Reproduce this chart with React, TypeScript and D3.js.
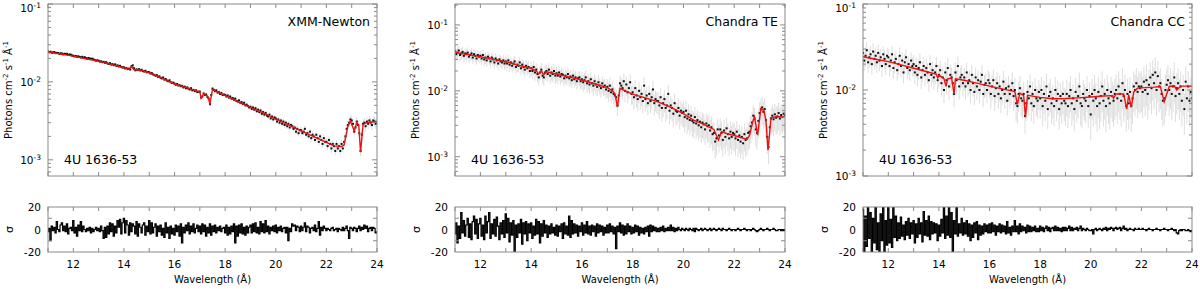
import * as d3 from 'd3'

// spectra are binned on a common wavelength grid (Å)
const gridStart = 11
const gridStep = 0.05
const wavelengthTicks = [12, 14, 16, 18, 20, 22, 24]
const fluxDecades = [-3, -2, -1]
const sigmaTicks = [-20, 0, 20]

// ---- XMM-Newton ----
// observed flux, 1e-3 photons cm^-2 s^-1 Å^-1, one value per 0.05 Å from 11 Å
const xmmFlux = [
  24.6, 24.0, 24.4, 23.7, 23.9, 24.2, 23.4, 23.6, 23.5, 22.9, 23.3, 23.1, 22.6, 23.0, 22.8, 22.9, 22.2, 22.5, 22.3, 21.8,
  21.7, 21.2, 21.5, 21.0, 21.3, 20.9, 20.6, 21.0, 20.4, 20.8, 20.2, 19.9, 20.3, 20.0, 19.6, 19.9, 19.4, 19.0, 18.8, 18.9,
  18.7, 18.2, 18.4, 17.9, 18.1, 17.6, 17.9, 17.3, 17.0, 17.4, 16.7, 16.9, 16.4, 16.8, 16.1, 16.3, 15.8, 16.1, 15.5, 15.3,
  15.4, 14.9, 15.1, 14.6, 14.8, 14.4, 15.9, 16.3, 15.0, 14.1, 14.5, 14.2, 14.6, 14.0, 14.3, 13.8, 13.6, 13.9, 13.3, 13.4,
  13.3, 12.8, 13.0, 12.5, 12.3, 12.0, 12.2, 11.6, 11.8, 11.3, 11.1, 11.4, 10.7, 10.9, 10.4, 10.2, 10.5, 9.9, 9.7, 9.8,
  9.5, 9.2, 9.4, 9.0, 9.1, 8.8, 8.9, 8.5, 8.7, 8.3, 8.5, 8.2, 8.0, 8.3, 7.8, 7.9, 7.6, 7.8, 7.4, 7.5,
  7.5, 6.3, 6.5, 7.1, 6.8, 6.9, 6.4, 6.1, 5.2, 6.8, 8.2, 7.9, 7.6, 7.8, 7.3, 7.4, 7.0, 7.2, 6.8, 6.9,
  6.8, 6.5, 6.7, 6.3, 6.5, 6.1, 6.2, 5.9, 6.1, 5.7, 5.6, 5.8, 5.4, 5.5, 5.2, 5.4, 5.0, 5.1, 4.9, 4.7,
  4.8, 4.5, 4.7, 4.4, 4.6, 4.2, 4.4, 4.1, 4.3, 3.9, 4.1, 3.8, 4.0, 3.7, 3.6, 3.8, 3.4, 3.6, 3.3, 3.5,
  3.4, 3.1, 3.3, 3.0, 3.2, 2.9, 3.1, 2.8, 3.0, 2.7, 2.9, 2.6, 2.8, 2.7, 2.5, 2.6, 2.3, 2.5, 2.2, 2.4,
  2.4, 2.2, 2.3, 2.5, 2.1, 2.2, 2.0, 2.3, 1.9, 2.1, 2.0, 1.8, 2.1, 1.9, 1.7, 2.0, 1.8, 1.6, 1.9, 1.7,
  1.7, 1.5, 1.8, 1.6, 1.4, 1.6, 1.5, 1.3, 1.6, 1.4, 1.5, 1.3, 1.6, 1.4, 1.7, 2.0, 2.5, 2.8, 3.0, 3.3,
  3.2, 2.9, 2.3, 2.6, 3.1, 2.8, 2.2, 1.3, 2.1, 2.9, 3.0, 2.7, 3.1, 2.9, 3.2, 3.0, 2.8, 3.2, 3.1, 2.9,
  3.0,
]
// fractional 1-sigma error, per 1 Å starting at 11 Å
const xmmRelErr = [0.03, 0.03, 0.03, 0.035, 0.04, 0.04, 0.05, 0.06, 0.07, 0.08, 0.1, 0.12, 0.14, 0.14]
// best-fit model [Å, 1e-3 flux]
const xmmModel: [number, number][] = [
  [11.0, 24.2], [11.5, 22.8], [12.0, 21.4], [12.5, 19.8], [13.0, 18.5], [13.5, 16.8], [14.0, 15.2],
  [14.2, 14.6], [14.3, 15.6], [14.4, 14.3], [14.6, 14.3], [15.0, 13.1], [15.5, 11.2], [16.0, 9.4],
  [16.5, 8.4], [17.0, 7.4], [17.05, 6.2], [17.15, 7.0], [17.3, 6.6], [17.4, 5.3], [17.5, 8.0],
  [17.7, 7.4], [18.0, 6.7], [18.5, 5.6], [19.0, 4.7], [19.5, 4.0], [20.0, 3.33], [20.5, 2.8],
  [21.0, 2.35], [21.5, 1.98], [22.0, 1.67], [22.3, 1.51], [22.6, 1.48], [22.7, 1.55], [22.85, 2.7],
  [22.95, 3.15], [23.1, 2.35], [23.2, 3.0], [23.28, 2.8], [23.35, 1.25], [23.45, 2.85], [23.6, 3.0],
  [24.0, 3.1],
]
// residuals in sigma, per 0.05 Å
const xmmResid = [
  -2, 1, -10, 3, -1, 2, -3, 7, 0, -2, 4, 6, -1, 3, -2, 5, -4, 1, 2, -1,
  8, -3, 2, -6, 4, -1, 7, -2, 3, 0, -2, 1, -1, 2, -3, 1, -2, 0, 2, -1,
  1, -2, 3, -1, -8, 2, -7, 3, -4, 6, -2, 5, -6, 3, -3, 8, 2, 9, -4, 6,
  10, -3, 8, 4, -5, 6, -2, 5, 3, -4, 7, -6, 5, 2, -3, 4, 6, -5, 3, -2,
  8, -4, 6, -3, 2, 5, -6, 3, -2, 4, -5, 1, -7, 6, -3, 2, -8, 3, -4, 1,
  -5, 4, -2, 3, -6, 5, -12, 2, -3, 4, -1, 6, -4, 3, -2, 5, -3, 1, 4, -2,
  3, -4, 5, -2, 4, -6, 2, -3, 5, -5, 3, -2, 4, -3, 2, -1, 3, -2, 1, 2,
  -3, 4, -5, 2, -4, 3, -2, 5, -12, 3, -6, 4, -3, 5, -4, 2, -5, 3, -3, 2,
  4, -3, 5, -2, 6, -3, 2, -4, 7, -2, 5, -3, 8, -2, 3, -4, 2, -1, 3, -2,
  4, -3, 2, -1, 3, -2, 1, 2, -3, 2, -10, 1, -2, 5, 3, 4, -1, 3, 2, -2,
  3, -1, 2, 6, -2, 3, 2, -3, 1, 2, -1, 4, -2, 1, 7, -5, 2, -1, 3, 1,
  -1, 1, 0, -1, 1, 2, -1, 0, 1, -2, 1, 0, -1, 2, -1, 1, 3, -1, -8, 2,
  1, -1, 2, 1, -2, 1, 3, -1, 2, 0, 4, 1, 3, -2, 1, 2, -1, 2, 1, -3,
  -2,
]

// ---- Chandra TE ----
const teFlux = [
  40, 36, 38, 41, 35, 37, 39, 34, 37, 36, 38, 33, 35, 37, 32, 36, 34, 31, 35, 33,
  34, 31, 35, 30, 32, 29, 33, 31, 28, 32, 30, 27, 31, 29, 26, 30, 28, 27, 29, 26,
  28, 26, 29, 25, 27, 24, 26, 28, 23, 25, 24, 27, 22, 25, 23, 21, 24, 22, 23, 20,
  22, 20, 23, 19, 21, 18, 16, 19, 21, 17, 16, 19, 20, 18, 21, 17, 19, 18, 20, 17,
  18.5, 17, 19, 16.5, 18, 17.5, 15.5, 17, 16, 18, 15.5, 16.5, 14.5, 17, 15, 16, 14, 15.5, 16, 14,
  15, 13.5, 14.5, 16, 13, 14, 12.5, 15, 13, 12, 14, 12.5, 11.5, 13.5, 12, 11, 13, 11.5, 12, 10.5,
  11.5, 10, 12, 9.5, 10.5, 9, 8.5, 8, 6, 8.5, 13, 12, 11, 14, 10, 12.5, 9.5, 11, 13.5, 9,
  9.5, 8, 11, 8.5, 7.5, 10, 8, 9, 7, 12, 7.5, 8.5, 6.5, 9, 7, 8, 10.5, 6.5, 7.5, 7,
  7, 6, 8, 5.5, 6.5, 7.5, 5.5, 6, 9, 5, 6, 5.5, 4.5, 6.5, 5, 4.8, 5.5, 4.2, 5, 4.6,
  4.8, 4, 5, 3.8, 4.4, 3.6, 4.2, 3.5, 3.3, 4, 3.2, 3.6, 3.0, 3.4, 2.8, 3.3, 3.1, 2.6, 3.2, 2.9,
  3.0, 2.5, 2.8, 2.2, 2.3, 1.7, 1.9, 2.6, 2.1, 2.6, 2.3, 1.8, 2.5, 2.0, 2.7, 2.2, 1.9, 2.4, 2.0, 2.3,
  2.2, 1.9, 2.4, 1.8, 2.1, 1.7, 2.0, 1.6, 2.2, 1.8, 1.9, 2.3, 2.4, 2.9, 3.3, 4.2, 3.8, 2.6, 2.3, 3.5,
  4.6, 5.2, 5.6, 4.8, 5.3, 3.6, 2.0, 1.4, 2.8, 3.8, 4.2, 3.7, 4.4, 3.9, 4.1, 4.6, 3.8, 4.3, 4.0, 4.5,
  4.2,
]
const teRelErr = [0.2, 0.2, 0.22, 0.25, 0.25, 0.28, 0.32, 0.35, 0.38, 0.42, 0.45, 0.45, 0.45, 0.45]
const teModel: [number, number][] = [
  [11.0, 38.5], [11.5, 35.5], [12.0, 33], [12.5, 30], [13.0, 27.7], [13.5, 24.5], [14.0, 22],
  [14.2, 20], [14.3, 18], [14.4, 20], [14.5, 17.5], [14.6, 19.5], [15.0, 18.0], [15.5, 16.2],
  [16.0, 14.6], [16.5, 12.8], [17.0, 11.2], [17.2, 10.0], [17.3, 9.0], [17.4, 5.7], [17.45, 8],
  [17.5, 10.9], [17.7, 10], [18.0, 8.9], [18.5, 7.8], [19.0, 6.8], [19.5, 5.6], [20.0, 4.5],
  [20.4, 3.6], [20.8, 3.1], [21.0, 2.85], [21.2, 2.6], [21.3, 2.1], [21.38, 1.8], [21.5, 2.4],
  [21.7, 2.25], [22.0, 2.1], [22.5, 1.83], [22.6, 2.1], [22.75, 3.6], [22.8, 4.0], [22.92, 2.13],
  [23.05, 5.4], [23.17, 5.0], [23.25, 3.5], [23.33, 1.26], [23.45, 3.9], [23.6, 4.0], [24.0, 4.1],
]
const teResid = [
  -4, 6, -12, 3, -8, 15, -3, 8, -6, 4, 10, -7, 5, -9, 7, 12, -4, 9, -8, 5,
  10, -6, 4, -9, 12, -3, 7, 15, -8, 5, -4, 9, -6, 11, 3, -9, 6, -4, 8, -7,
  14, -3, 10, -11, 6, -5, 8, -20, 4, -7, 5, -3, 9, -13, 6, -4, 7, -10, 5, -3,
  6, -8, 3, -5, 9, -4, 7, -12, 5, -6, 8, -3, 4, -7, 3, -4, 5, -3, 2, -5,
  4, -6, 3, -2, 5, -8, 6, -4, 3, -5, 12, -7, 8, -4, 5, -3, 4, -6, 3, -2,
  6, -5, 4, -3, 7, -4, 3, -5, 4, -2, 3, -6, 5, -3, 4, -2, 3, -5, 2, -3,
  4, -3, 5, -2, 3, -4, 2, -17, 3, -2, 6, -3, 4, -5, 3, -4, 5, -2, 3, -4,
  2, -3, 4, -2, 3, -5, 2, -3, 1, -4, 2, -2, 3, -6, 4, -2, 3, -1, 2, -2,
  1, -2, 2, -1, 3, -2, 1, -1, 2, -1, 4, -1, 2, -2, 1, -1, 2, 0, -1, 1,
  0, -1, 1, 0, -1, 1, 0, -1, 1, -2, 1, 0, -1, 0, 1, -1, 0, 1, 0, -1,
  0, 1, -1, 0, 1, 0, -1, 0, 1, 0, -1, 1, 0, 0, -1, 0, 1, 0, -1, 0,
  0, -1, 0, 1, 0, -1, 0, 0, 1, 0, -1, 0, 0, -1, 0, 1, 0, -1, -2, -1,
  0, 1, 0, -1, 0, 0, 1, 0, -1, 0, 0, 1, 0, -1, -1, 0, 0, -1, 0, -1,
  0,
]

// ---- Chandra CC ----
const ccFlux = [
  27, 22, 25, 29, 21, 24, 26, 20, 28, 23, 25, 21, 27, 22, 24, 19, 26, 23, 20, 25,
  24, 19, 22, 26, 18, 21, 23, 17, 20, 25, 19, 22, 16, 21, 24, 18, 20, 17, 22, 19,
  20, 16, 19, 15, 18, 21, 14, 17, 19, 15, 18, 16, 13, 20, 15, 17, 14, 16, 19, 13,
  15, 17, 12, 14, 10, 16, 13, 18, 11, 15, 14, 12, 9, 16, 13, 19, 11, 14, 15, 12,
  14, 11, 16, 12, 13, 10, 15, 12, 9.5, 14, 11, 13, 10, 12.5, 15, 9, 11.5, 12, 10, 13,
  12, 9, 11, 13, 8.5, 10.5, 12, 9, 11, 8, 10, 12.5, 9, 10.5, 7.5, 11, 9, 10, 12, 8.5,
  10, 7, 6.5, 9, 10.5, 8, 7.5, 9, 5, 7, 9.5, 8, 11, 7, 9, 6.5, 10, 8, 7.5, 9.5,
  8, 10, 6.5, 9, 7.5, 11, 6, 8.5, 9.5, 7, 8, 6.5, 10, 7.5, 9, 6, 8.5, 7, 9, 7.5,
  7, 9, 6.5, 8.5, 10, 7, 8, 6, 9.5, 7.5, 8.5, 11, 7, 6.5, 9, 8, 7.5, 10, 6.5, 8.5,
  5.2, 9, 7.5, 10, 8, 6.5, 9.5, 7, 8.5, 11, 7.5, 9, 6.5, 10, 8, 7, 9.5, 8.5, 7.5, 9,
  10, 8, 11, 9, 7.5, 12, 8.5, 10, 6.5, 9, 7, 9.5, 6.5, 8, 11, 10, 12, 9.5, 11, 10.5,
  11, 9.5, 12.5, 10, 13, 9, 11.5, 14, 10.5, 15, 12, 16, 10, 14.5, 11, 12, 9, 7.5, 8, 10,
  11.5, 13, 10, 12, 9, 11, 14, 8.5, 10.5, 12, 9, 11, 7.5, 10, 6, 12.5, 8, 11, 7.5, 9.5,
  8,
]
const ccRelErr = [0.25, 0.25, 0.27, 0.3, 0.3, 0.33, 0.38, 0.42, 0.45, 0.5, 0.5, 0.5, 0.5, 0.5]
const ccModel: [number, number][] = [
  [11.0, 24.4], [11.5, 22.8], [12.0, 21.4], [12.5, 19.6], [13.0, 17.9], [13.5, 16.4], [13.9, 15.2],
  [13.95, 13.8], [14.0, 14.9], [14.2, 13.5], [14.28, 11.0], [14.35, 13.5], [14.5, 13.8], [14.6, 9.0],
  [14.65, 13.5], [15.0, 13.0], [15.5, 12.0], [16.0, 11.1], [16.5, 10.3], [17.0, 9.6], [17.1, 6.8],
  [17.2, 9.2], [17.35, 8.6], [17.42, 4.8], [17.5, 8.7], [17.7, 8.5], [18.0, 8.2], [18.5, 7.9],
  [19.0, 7.95], [19.5, 8.1], [20.0, 8.3], [20.5, 8.5], [20.85, 8.6], [20.9, 8.0], [21.0, 9.0],
  [21.3, 9.0], [21.42, 6.0], [21.5, 8.8], [21.6, 6.3], [21.7, 9.5], [21.85, 10.5], [22.0, 10.6],
  [22.5, 10.8], [22.75, 11], [22.9, 7.3], [23.1, 11.0], [23.3, 11.2], [23.4, 10.0], [23.55, 11.1],
  [24.0, 11.1],
]
const ccResid = [
  18, -20, 12, -15, 20, -8, 15, -20, 10, -12, 20, -18, 6, -20, 14, -10, 20, -20, 8, -14,
  20, -12, 9, -16, 20, -7, 12, -10, 6, -8, 11, -6, 4, -9, 7, -5, 10, -8, 6, -4,
  8, -12, 5, -7, 10, -4, 6, -11, 16, -5, 8, -6, 12, -9, 7, -4, 6, -3, 5, -10,
  4, -6, 9, -3, 20, -8, 12, -5, 20, -7, 15, -20, 8, -4, 20, -6, 5, -3, 10, -5,
  6, -4, 8, -6, 5, -10, 4, -7, 6, -3, 7, -9, 4, -5, 3, -4, 5, -2, 4, -3,
  5, -3, 6, -2, 4, -5, 3, -2, 5, -3, 4, -2, 3, -4, 7, -3, 2, -5, 3, -2,
  8, -2, 3, -4, 5, -2, 3, -1, 2, -3, 4, -2, 3, -2, 2, -1, 3, -2, 1, -2,
  3, -1, 2, -2, 1, 3, -1, 2, -2, 1, 2, -1, 3, -1, 2, -1, 1, -2, 2, -1,
  2, -1, 1, 3, -1, 2, -1, 1, 0, 2, -1, 1, 3, -1, 1, 0, -1, 1, 0, -1,
  -1, 0, -4, 0, 1, -1, 0, 1, 0, -1, 1, 0, 2, -1, 1, 0, 2, 1, -1, 1,
  2, 0, 1, 2, -1, 1, 3, 0, 1, -1, 0, 1, 0, 0, -1, 1, 0, 0, 1, 0,
  0, 1, 0, 0, -1, 0, 1, 0, 0, -1, 0, 0, 1, 0, 0, -1, 0, 0, 1, 0,
  0, -1, 0, 0, 1, 0, -1, 0, -3, -4, -1, 0, -1, 0, 0, -1, -1, 0, -1, -2,
  -1,
]

const sourceName = '4U 1636-53'

const panels = [
  { label: 'XMM-Newton', flux: xmmFlux, relErr: xmmRelErr, model: xmmModel, resid: xmmResid,
    yDomain: [6.2e-4, 0.1], left: 48, right: 377, errColor: '#c9dadd' },
  { label: 'Chandra TE', flux: teFlux, relErr: teRelErr, model: teModel, resid: teResid,
    yDomain: [5.1e-4, 0.208], left: 455, right: 785, errColor: '#d6d6d6' },
  { label: 'Chandra CC', flux: ccFlux, relErr: ccRelErr, model: ccModel, resid: ccResid,
    yDomain: [1e-3, 0.1], left: 863, right: 1192, errColor: '#d6d6d6' },
]

const TOP = 4
const BOTTOM = 176
const RTOP = 207
const RBOTTOM = 252
const FRAME = '#8a8a8a'
const FONT = 'DejaVu Sans, sans-serif'

type PanelCfg = (typeof panels)[number]

const Panel = ({ p, idx }: { p: PanelCfg; idx: number }) => {
  const x = d3.scaleLinear().domain([11, 24]).range([p.left, p.right])
  const y = d3.scaleLog().domain(p.yDomain).range([BOTTOM, TOP])
  const yr = d3.scaleLinear().domain([-20, 20]).range([RBOTTOM, RTOP])
  const lam = (i: number) => gridStart + i * gridStep
  const errOf = (i: number) =>
    p.relErr[Math.min(p.relErr.length - 1, Math.floor(lam(i) - gridStart + 1e-9))]

  const modelPath = d3
    .line<[number, number]>()
    .x((d) => x(d[0]))
    .y((d) => y(d[1] * 1e-3))(p.model)

  const residPath = d3
    .line<number>()
    .x((_, i) => x(lam(i)))
    .y((d) => yr(d))
    .curve(d3.curveStep)(p.resid)

  // log minor ticks
  const [lo, hi] = p.yDomain
  const logTicks: { v: number; major: boolean }[] = []
  for (let e = Math.floor(Math.log10(lo)); e <= Math.ceil(Math.log10(hi)); e++) {
    for (let m = 1; m <= 9; m++) {
      const v = m * Math.pow(10, e)
      if (v >= lo * 0.999 && v <= hi * 1.001) logTicks.push({ v, major: m === 1 })
    }
  }
  const xTickVals = d3.range(11, 25)
  const clipTop = `clip-top-${idx}`
  const clipRes = `clip-res-${idx}`
  const w = p.right - p.left
  const midY = (TOP + BOTTOM) / 2

  return (
    <g fontFamily={FONT}>
      <defs>
        <clipPath id={clipTop}>
          <rect x={p.left} y={TOP} width={w} height={BOTTOM - TOP} />
        </clipPath>
        <clipPath id={clipRes}>
          <rect x={p.left} y={RTOP} width={w} height={RBOTTOM - RTOP} />
        </clipPath>
      </defs>

      {/* spectrum */}
      <g clipPath={`url(#${clipTop})`}>
        {p.flux.map((f, i) => {
          const v = f * 1e-3
          const e = errOf(i)
          return (
            <line
              key={'e' + i}
              x1={x(lam(i))}
              x2={x(lam(i))}
              y1={y(v * (1 + e))}
              y2={y(Math.max(v * (1 - e), lo * 0.5))}
              stroke={p.errColor}
              strokeWidth={0.8}
            />
          )
        })}
        {p.flux.map((f, i) => (
          <rect
            key={'d' + i}
            x={x(lam(i)) - 1}
            y={y(f * 1e-3) - 1}
            width={2}
            height={2}
            fill="#111"
          />
        ))}
        <path d={modelPath ?? ''} fill="none" stroke="#f01010" strokeWidth={1.4} />
      </g>
      <rect x={p.left} y={TOP} width={w} height={BOTTOM - TOP} fill="none" stroke={FRAME} />

      {/* x ticks of both boxes */}
      {xTickVals.map((t) => (
        <g key={'xt' + t} stroke={FRAME}>
          <line x1={x(t)} x2={x(t)} y1={BOTTOM} y2={BOTTOM - 4} />
          <line x1={x(t)} x2={x(t)} y1={TOP} y2={TOP + 4} />
          <line x1={x(t)} x2={x(t)} y1={RBOTTOM} y2={RBOTTOM - 4} />
          <line x1={x(t)} x2={x(t)} y1={RTOP} y2={RTOP + 4} />
        </g>
      ))}
      {/* log y ticks */}
      {logTicks.map((t, i) => {
        const len = t.major ? 5 : 3
        return (
          <g key={'yt' + i} stroke={FRAME}>
            <line x1={p.left} x2={p.left + len} y1={y(t.v)} y2={y(t.v)} />
            <line x1={p.right} x2={p.right - len} y1={y(t.v)} y2={y(t.v)} />
          </g>
        )
      })}
      {fluxDecades
        .filter((e) => Math.pow(10, e) >= lo * 0.999 && Math.pow(10, e) <= hi * 1.001)
        .map((e) => (
          <text
            key={'yl' + e}
            x={p.left - 7}
            y={Math.max(y(Math.pow(10, e)) + 4, 12)}
            textAnchor="end"
            fontSize={10.5}
          >
            10<tspan dy={-4} fontSize={7.5}>{e}</tspan>
          </text>
        ))}
      <text
        transform={`translate(${p.left - 36},${midY}) rotate(-90)`}
        textAnchor="middle"
        fontSize={10}
      >
        Photons cm<tspan dy={-4} fontSize={7}>-2</tspan>
        <tspan dy={4}> s</tspan>
        <tspan dy={-4} fontSize={7}>-1</tspan>
        <tspan dy={4}> Å</tspan>
        <tspan dy={-4} fontSize={7}>-1</tspan>
      </text>
      <text x={p.right - 7} y={26} textAnchor="end" fontSize={12.5}>
        {p.label}
      </text>
      <text x={p.left + 16} y={164} fontSize={12.5}>
        {sourceName}
      </text>

      {/* residuals */}
      <g clipPath={`url(#${clipRes})`}>
        <path d={residPath ?? ''} fill="none" stroke="#000" strokeWidth={1.2} />
      </g>
      <rect x={p.left} y={RTOP} width={w} height={RBOTTOM - RTOP} fill="none" stroke={FRAME} />
      {[-10, 10].map((t) => (
        <g key={'rt' + t} stroke={FRAME}>
          <line x1={p.left} x2={p.left + 4} y1={yr(t)} y2={yr(t)} />
          <line x1={p.right} x2={p.right - 4} y1={yr(t)} y2={yr(t)} />
        </g>
      ))}
      {sigmaTicks.map((t) => (
        <text key={'rl' + t} x={p.left - 7} y={yr(t) + 4} textAnchor="end" fontSize={10.5}>
          {t}
        </text>
      ))}
      <text
        transform={`translate(${p.left - 35},${(RTOP + RBOTTOM) / 2}) rotate(-90)`}
        textAnchor="middle"
        fontSize={11}
      >
        σ
      </text>
      {wavelengthTicks.map((t) => (
        <text key={'xl' + t} x={x(t)} y={268} textAnchor="middle" fontSize={10.5}>
          {t}
        </text>
      ))}
      <text x={(p.left + p.right) / 2} y={283} textAnchor="middle" fontSize={10}>
        Wavelength (Å)
      </text>
    </g>
  )
}

export default function App() {
  return (
    <svg
      width={1200}
      height={289}
      style={{ position: 'absolute', left: 0, top: 0, background: '#fff' }}
    >
      {panels.map((p, i) => (
        <Panel key={p.label} p={p} idx={i} />
      ))}
    </svg>
  )
}
